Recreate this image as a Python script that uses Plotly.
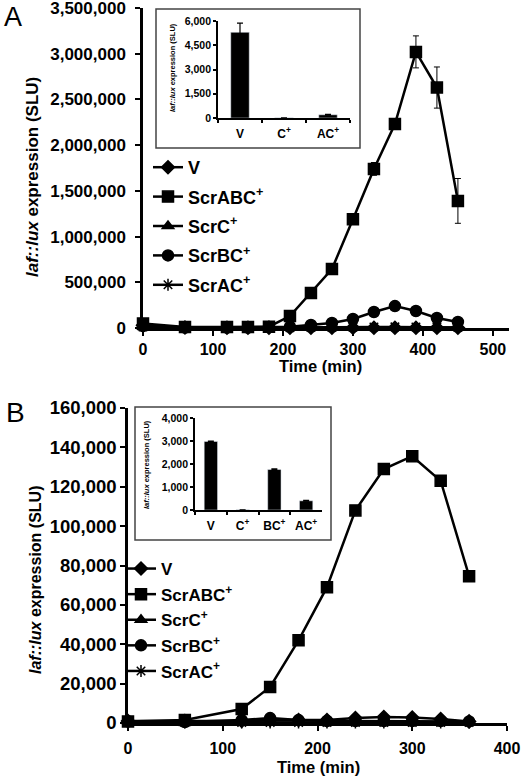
import plotly.graph_objects as go

W, H = 523, 780
FONT = "Liberation Sans, Arial, sans-serif"

# ---------------- Panel A data ----------------
time_A = [0, 60, 120, 150, 180, 210, 240, 270, 300, 330, 360, 390, 420, 450]
V_A = [30000, 5000, 3000, 3000, 3000, 3000, 3000, 3000, 3000, 3000, 3000, 3000, 3000, 3000]
ScrABC_A = [50000, 10000, 10000, 12000, 15000, 131000, 383000, 645000, 1190000, 1740000, 2230000, 3020000, 2630000, 1390000]
ScrABC_A_err = [0, 0, 0, 0, 0, 10000, 20000, 25000, 40000, 70000, 40000, 175000, 225000, 245000]
ScrC_A = [10000, 2000, 2000, 2000, 2000, 2000, 2000, 2000, 2000, 2000, 2000, 2000, 2000, 2000]
ScrBC_A = [20000, 5000, 5000, 5000, 10000, 15000, 33000, 55000, 98000, 175000, 240000, 186000, 109000, 66000]
ScrAC_A = [10000, 2000, 2000, 2000, 2000, 2000, 5000, 5000, 8000, 10000, 12000, 10000, 10000, 5000]

inset_cats_A = ["V", "C<sup>+</sup>", "AC<sup>+</sup>"]
inset_vals_A = [5300, 10, 200]
inset_err_A = [570, 0, 30]

# ---------------- Panel B data ----------------
time_B = [0, 60, 120, 150, 180, 210, 240, 270, 300, 330, 360]
V_B = [1000, 1000, 1000, 1500, 1500, 1500, 2500, 3000, 2800, 2000, 800]
ScrABC_B = [800, 1500, 7100, 18300, 42000, 69000, 108000, 129000, 135500, 123000, 74600]
ScrC_B = [500, 300, 300, 300, 300, 300, 300, 300, 300, 300, 300]
ScrBC_B = [800, 500, 1500, 2500, 1500, 1000, 1000, 1000, 1000, 1000, 800]
ScrAC_B = [500, 300, 300, 300, 300, 300, 300, 300, 300, 300, 300]

inset_cats_B = ["V", "C<sup>+</sup>", "BC<sup>+</sup>", "AC<sup>+</sup>"]
inset_vals_B = [2980, 10, 1760, 400]
inset_err_B = [20, 0, 30, 20]

series_names = ["V", "ScrABC<sup>+</sup>", "ScrC<sup>+</sup>", "ScrBC<sup>+</sup>", "ScrAC<sup>+</sup>"]
symbols = ["diamond", "square", "triangle-up", "circle", "asterisk-open"]
sizes = [10, 11, 10, 11, 10]


def px_x(p):
    return p / W


def px_y(p):
    return 1 - p / H


fig = go.Figure()

dataA = [V_A, ScrABC_A, ScrC_A, ScrBC_A, ScrAC_A]
dataB = [V_B, ScrABC_B, ScrC_B, ScrBC_B, ScrAC_B]

for i, (name, sym, sz, ys) in enumerate(zip(series_names, symbols, sizes, dataA)):
    err = None
    if i == 1:
        err = dict(type="data", array=ScrABC_A_err, color="black", thickness=1, width=3, visible=True)
    fig.add_trace(go.Scatter(
        x=time_A, y=ys, name=name, mode="lines+markers",
        line=dict(color="black", width=2.5),
        marker=dict(symbol=sym, size=sz, color="black", line=dict(color="black", width=1.5)),
        error_y=err, cliponaxis=False, xaxis="x", yaxis="y", legend="legend",
        legendgroup="A%d" % i,
    ))

fig.add_trace(go.Bar(
    x=inset_cats_A, y=inset_vals_A, width=0.42, marker=dict(color="black"),
    error_y=dict(type="data", array=inset_err_A, color="black", thickness=1.2, width=3),
    xaxis="x2", yaxis="y2", showlegend=False,
))

for i, (name, sym, sz, ys) in enumerate(zip(series_names, symbols, sizes, dataB)):
    fig.add_trace(go.Scatter(
        x=time_B, y=ys, name=name, mode="lines+markers",
        line=dict(color="black", width=2.5),
        marker=dict(symbol=sym, size=sz, color="black", line=dict(color="black", width=1.5)),
        cliponaxis=False, xaxis="x3", yaxis="y3", legend="legend2",
        legendgroup="B%d" % i,
    ))

fig.add_trace(go.Bar(
    x=inset_cats_B, y=inset_vals_B, width=0.42, marker=dict(color="black"),
    error_y=dict(type="data", array=inset_err_B, color="black", thickness=1.2, width=3),
    xaxis="x4", yaxis="y4", showlegend=False,
))

main_axis = dict(showgrid=False, zeroline=False, showline=True, linecolor="black", linewidth=2.5,
                 ticks="outside", ticklen=5, tickwidth=2, tickcolor="black", automargin=False,
                 ticklabeloverflow="allow")
inset_axis = dict(showgrid=False, zeroline=False, showline=True, linecolor="black", linewidth=1.8,
                  ticks="outside", ticklen=3, tickwidth=1.5, tickcolor="black", automargin=False,
                  ticklabeloverflow="allow")


def label(text, x, y, size, angle=0):
    return dict(text=text, x=px_x(x), y=px_y(y), xref="paper", yref="paper", showarrow=False,
                xanchor="center", yanchor="middle", textangle=angle, font=dict(size=size))


fig.update_layout(
    width=W, height=H, autosize=False,
    margin=dict(l=0, r=0, t=0, b=0),
    paper_bgcolor="white", plot_bgcolor="rgba(0,0,0,0)",
    font=dict(family=FONT, color="black"),
    xaxis=dict(**main_axis, domain=[px_x(143), px_x(509)], range=[0, 523], dtick=100,
               anchor="y", tickfont=dict(size=16, weight="bold")),
    yaxis=dict(**main_axis, domain=[px_y(328), px_y(8)], range=[0, 3500000], dtick=500000,
               tickformat=",", anchor="x", tickfont=dict(size=17, weight="bold"), ticklabelstandoff=6),
    xaxis2=dict(**inset_axis, domain=[px_x(218), px_x(350)], range=[-0.5, 2.5], type="category",
                tickson="boundaries", anchor="y2", tickfont=dict(size=12, weight="bold"),
                ticklabelstandoff=4, tickangle=0),
    yaxis2=dict(**inset_axis, domain=[px_y(118), px_y(21)], range=[0, 6000], dtick=1500,
                tickformat=",", anchor="x2", tickfont=dict(size=10.5, weight="bold")),
    xaxis3=dict(**main_axis, domain=[px_x(128), px_x(507)], range=[0, 400], dtick=100,
                anchor="y3", tickfont=dict(size=16, weight="bold"), ticklabelstandoff=4),
    yaxis3=dict(**main_axis, domain=[px_y(723), px_y(408)], range=[0, 160000], dtick=20000,
                tickformat=",", anchor="x3", tickfont=dict(size=18.5, weight="bold")),
    xaxis4=dict(**inset_axis, domain=[px_x(195), px_x(322)], range=[-0.5, 3.5], type="category",
                tickson="boundaries", anchor="y4", tickfont=dict(size=12, weight="bold"),
                ticklabelstandoff=4, tickangle=0),
    yaxis4=dict(**inset_axis, domain=[px_y(510), px_y(418)], range=[0, 4000], dtick=1000,
                tickformat=",", anchor="x4", tickfont=dict(size=10.5, weight="bold")),
    legend=dict(x=px_x(148), y=px_y(149), xanchor="left", yanchor="top",
                bgcolor="rgba(0,0,0,0)", font=dict(size=18, weight="bold"), tracegroupgap=3),
    legend2=dict(x=px_x(121), y=px_y(551), xanchor="left", yanchor="top",
                 bgcolor="rgba(0,0,0,0)", font=dict(size=17, weight="bold"), tracegroupgap=0.5),
    shapes=[
        dict(type="rect", xref="paper", yref="paper", x0=px_x(156), x1=px_x(360), y0=px_y(148), y1=px_y(9),
             line=dict(color="#444444", width=1.5), fillcolor="white", layer="below"),
        dict(type="rect", xref="paper", yref="paper", x0=px_x(135), x1=px_x(331), y0=px_y(540), y1=px_y(407),
             line=dict(color="#444444", width=1.5), fillcolor="white", layer="below"),
    ],
    annotations=[
        label("A", 13, 17, 27),
        label("B", 15, 412, 28),
        label("<b><i>laf::lux</i> expression (SLU)</b>", 33, 177, 17, -90),
        label("<b><i>laf::lux</i> expression (SLU)</b>", 35, 580, 16, -90),
        label("<b>Time (min)</b>", 320, 366, 16.5),
        label("<b>Time (min)</b>", 318, 767, 16.5),
        label("<b><i>laf::lux</i> expression (SLU)</b>", 172, 68, 7.5, -90),
        label("<b><i>laf::lux</i> expression (SLU)</b>", 146, 465, 7.5, -90),
    ],
)

# remove the default 8px page margin so the figure fills the window exactly
fig.write_html("out.html", config={"displayModeBar": False},
               post_script="document.body.style.margin='0';")
